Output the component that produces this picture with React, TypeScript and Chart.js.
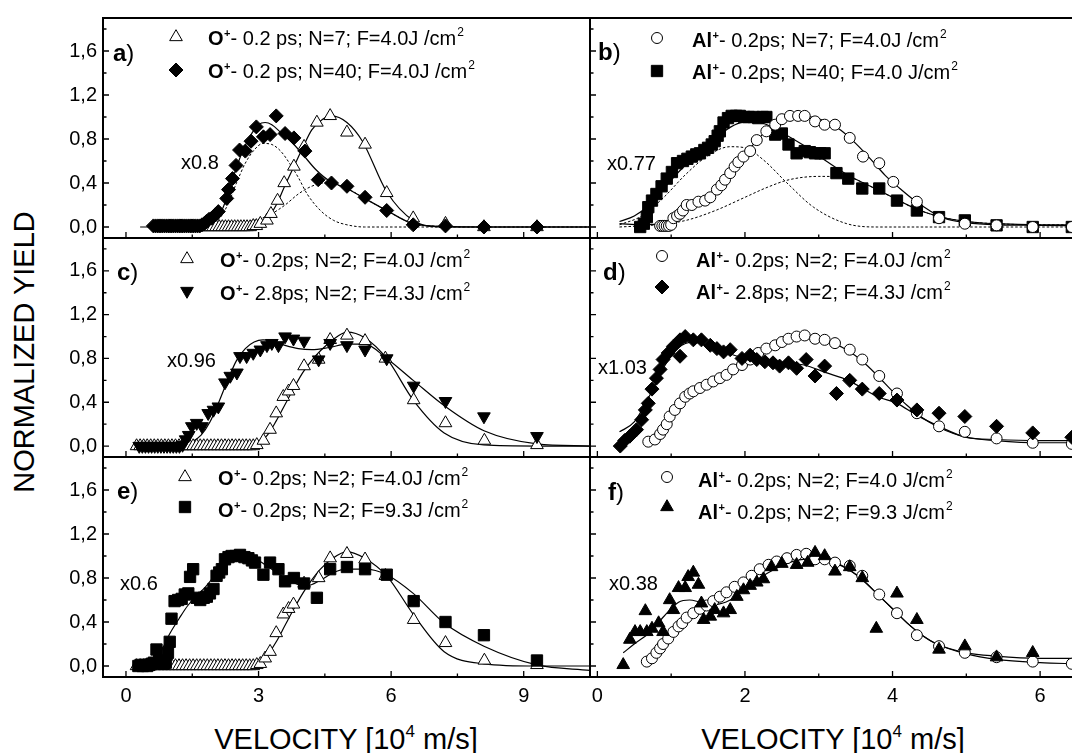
import React, { useEffect, useRef } from 'react';
import { Chart, registerables } from 'chart.js';
Chart.register(...registerables);

const FONT = '"Liberation Sans", Arial, Helvetica, sans-serif';

// ---------- axis ticks ----------
const leftXTicks = [0, 3, 6, 9];
const leftXMinor = [1.5, 4.5, 7.5];
const rightXTicks = [0, 2, 4, 6];
const rightXMinor = [1, 3, 5];
const yTicks = [0, 0.4, 0.8, 1.2, 1.6];
const yMinor = [0.2, 0.6, 1.0, 1.4, 1.8];

// ---------- panel a : O+ 0.2 ps, N=7 (open triangles) / N=40 (diamonds) ----------
const aTri = [
  [0.85, 0], [0.92, 0], [0.99, 0], [1.06, 0], [1.13, 0], [1.2, 0], [1.27, 0], [1.34, 0], [1.41, 0], [1.48, 0],
  [1.55, 0], [1.62, 0], [1.69, 0], [1.76, 0], [1.83, 0], [1.9, 0], [1.97, 0], [2.04, 0], [2.11, 0], [2.18, 0],
  [2.25, 0], [2.32, 0], [2.39, 0], [2.46, 0], [2.53, 0], [2.6, 0], [2.67, 0], [2.74, 0], [2.81, 0], [2.88, 0.01],
  [2.95, 0.01], [3.04, 0.03], [3.19, 0.06], [3.28, 0.12], [3.43, 0.24], [3.58, 0.4], [3.8, 0.55], [4.03, 0.73],
  [4.32, 0.95], [4.62, 1.01], [5.0, 0.86], [5.41, 0.75], [5.9, 0.31], [6.5, 0.08], [7.23, 0.03], [8.1, 0.0], [9.3, 0.0],
];
const aDia = [
  [0.62, 0.01], [0.67, 0.01], [0.72, 0.01], [0.77, 0.01], [0.82, 0.01], [0.87, 0.01], [0.92, 0.01], [0.97, 0.01],
  [1.02, 0.01], [1.07, 0.01], [1.12, 0.01], [1.17, 0.01], [1.22, 0.01], [1.27, 0.01], [1.32, 0.01], [1.37, 0.01],
  [1.42, 0.01], [1.47, 0.01], [1.52, 0.01], [1.57, 0.01], [1.62, 0.01], [1.67, 0.01], [1.72, 0.02], [1.77, 0.03],
  [1.82, 0.05], [1.88, 0.07], [1.94, 0.08], [2.02, 0.11], [2.09, 0.14], [2.28, 0.26], [2.32, 0.34], [2.41, 0.44],
  [2.49, 0.56], [2.57, 0.7], [2.7, 0.69], [2.83, 0.78], [2.95, 0.91], [3.11, 0.82], [3.26, 0.84], [3.4, 1.01],
  [3.6, 0.85], [3.8, 0.81], [4.05, 0.69], [4.35, 0.43], [4.65, 0.4], [5.0, 0.37], [5.41, 0.27], [5.9, 0.15],
  [6.5, 0.02], [7.23, 0.01], [8.1, 0.0], [9.3, 0.0],
];
const aTriLine = [
  [0.8, 0], [2.8, 0.01], [3.0, 0.03], [3.2, 0.08], [3.4, 0.2], [3.6, 0.38], [3.8, 0.55], [4.0, 0.72], [4.2, 0.88],
  [4.45, 0.98], [4.65, 1.01], [5.0, 0.95], [5.35, 0.78], [5.9, 0.32], [6.5, 0.06], [7.2, 0.0], [10.5, 0],
];
const aDiaLine = [
  [0.32, 0], [1.8, 0.01], [2.0, 0.05], [2.2, 0.18], [2.4, 0.42], [2.6, 0.65], [2.8, 0.82], [3.0, 0.93], [3.15, 0.95],
  [3.3, 0.93], [3.5, 0.86], [3.8, 0.75], [4.0, 0.66], [4.3, 0.52], [4.6, 0.42], [5.0, 0.35], [5.4, 0.26], [5.9, 0.15],
  [6.5, 0.03], [7.2, 0.005], [8.1, 0], [10.5, 0],
];
const aDot1 = [
  [1.6, 0], [1.9, 0.02], [2.1, 0.07], [2.3, 0.2], [2.5, 0.4], [2.7, 0.58], [2.9, 0.7], [3.1, 0.76], [3.3, 0.75],
  [3.5, 0.69], [3.7, 0.58], [3.9, 0.45], [4.1, 0.3], [4.4, 0.15], [4.7, 0.06], [5.0, 0.02], [5.4, 0.0], [10.5, 0],
];
const aDot2 = [
  [2.4, 0.02], [2.8, 0.05], [3.2, 0.1], [3.6, 0.2], [3.9, 0.3], [4.2, 0.37], [4.5, 0.4], [4.8, 0.38], [5.1, 0.33],
  [5.4, 0.26], [5.9, 0.15], [6.5, 0.03], [7.2, 0.005], [8.0, 0], [10.5, 0],
];

// ---------- panel b : Al+ 0.2 ps, N=7 (open circles) / N=40 (squares) ----------
const bCirc = [
  [0.85, 0.01], [0.88, 0.01], [0.91, 0.01], [0.94, 0.01], [0.97, 0.01], [1.0, 0.02], [1.03, 0.08], [1.08, 0.1],
  [1.12, 0.12], [1.16, 0.15], [1.21, 0.2], [1.28, 0.2], [1.37, 0.23], [1.46, 0.24], [1.53, 0.27], [1.62, 0.34],
  [1.68, 0.38], [1.73, 0.43], [1.8, 0.49], [1.86, 0.55], [1.91, 0.59], [1.98, 0.64], [2.07, 0.69], [2.16, 0.79],
  [2.29, 0.87], [2.41, 0.93], [2.5, 0.98], [2.61, 1.01], [2.72, 1.01], [2.81, 1.01], [2.95, 0.96], [3.08, 0.93],
  [3.22, 0.93], [3.42, 0.81], [3.6, 0.64], [3.82, 0.58], [4.01, 0.41], [4.33, 0.23], [4.63, 0.08], [4.98, 0.03],
  [5.41, 0.015], [5.9, 0.0], [6.43, 0.0],
];
const bSq = [
  [0.58, 0.0], [0.63, 0.03], [0.67, 0.09], [0.69, 0.18], [0.74, 0.24], [0.8, 0.3], [0.87, 0.37], [0.94, 0.44],
  [1.01, 0.5], [1.08, 0.58], [1.16, 0.6], [1.22, 0.62], [1.28, 0.64], [1.34, 0.66], [1.39, 0.67], [1.45, 0.7],
  [1.5, 0.72], [1.55, 0.75], [1.59, 0.78], [1.63, 0.83], [1.66, 0.87], [1.71, 0.95], [1.77, 0.99], [1.82, 1.01],
  [1.88, 1.01], [1.93, 1.01], [1.99, 1.0], [2.05, 1.0], [2.12, 1.0], [2.18, 0.99], [2.24, 1.0], [2.29, 1.0],
  [2.41, 0.84], [2.5, 0.85], [2.59, 0.75], [2.7, 0.67], [2.81, 0.69], [2.88, 0.68], [2.95, 0.67], [3.02, 0.67],
  [3.08, 0.67], [3.24, 0.49], [3.4, 0.44], [3.59, 0.35], [3.82, 0.35], [4.06, 0.24], [4.33, 0.15], [4.63, 0.09],
  [4.98, 0.06], [5.41, 0.015], [5.9, 0.0], [6.43, 0.0],
];
const bCircLine = [
  [0.3, 0.03], [0.6, 0.02], [0.9, 0.04], [1.1, 0.1], [1.3, 0.19], [1.5, 0.28], [1.7, 0.4], [1.9, 0.57], [2.1, 0.74],
  [2.3, 0.88], [2.5, 0.97], [2.7, 1.01], [2.9, 1.0], [3.1, 0.96], [3.3, 0.88], [3.5, 0.76], [3.7, 0.62], [3.9, 0.47],
  [4.1, 0.35], [4.3, 0.24], [4.5, 0.15], [4.7, 0.08], [5.0, 0.04], [5.4, 0.02], [6.0, 0.015], [6.5, 0.01],
];
const bSqLine = [
  [0.3, 0.05], [0.5, 0.1], [0.7, 0.2], [0.9, 0.35], [1.1, 0.5], [1.3, 0.63], [1.5, 0.74], [1.7, 0.86], [1.9, 0.94],
  [2.1, 0.96], [2.3, 0.93], [2.5, 0.86], [2.8, 0.74], [3.1, 0.6], [3.4, 0.47], [3.7, 0.37], [4.0, 0.27], [4.3, 0.17],
  [4.6, 0.1], [5.0, 0.05], [5.4, 0.03], [6.0, 0.02], [6.5, 0.02],
];
const bDot1 = [
  [0.3, 0.02], [0.6, 0.1], [0.9, 0.27], [1.2, 0.48], [1.5, 0.65], [1.8, 0.73], [2.0, 0.72], [2.25, 0.61],
  [2.57, 0.4], [2.93, 0.18], [3.38, 0.03], [3.8, 0.0], [6.5, 0.0],
];
const bDot2 = [
  [0.3, 0.0], [0.8, 0.02], [1.2, 0.06], [1.6, 0.15], [2.0, 0.27], [2.3, 0.36], [2.6, 0.43], [3.0, 0.46], [3.4, 0.45],
  [3.7, 0.37], [4.0, 0.27], [4.3, 0.17], [4.6, 0.1], [5.0, 0.05], [5.4, 0.03], [6.0, 0.02], [6.5, 0.02],
];

// ---------- panel c : O+ 0.2 ps (open triangles) / 2.8 ps (inverted triangles) ----------
const cTri = [
  [0.24, 0], [0.32, 0], [0.4, 0], [0.48, 0], [0.56, 0], [0.64, 0], [0.72, 0], [0.8, 0], [0.88, 0], [0.96, 0],
  [1.04, 0], [1.12, 0], [1.2, 0], [1.28, 0], [1.36, 0], [1.44, 0], [1.52, 0], [1.6, 0], [1.68, 0], [1.76, 0],
  [1.84, 0], [1.92, 0], [2.0, 0], [2.08, 0], [2.16, 0], [2.24, 0], [2.32, 0], [2.4, 0], [2.48, 0], [2.56, 0],
  [2.64, 0], [2.72, 0], [2.8, 0], [2.88, 0], [2.96, 0.01], [3.11, 0.05], [3.26, 0.15], [3.4, 0.3], [3.56, 0.45],
  [3.68, 0.5], [3.79, 0.55], [4.03, 0.73], [4.36, 0.79], [4.62, 0.97], [5.0, 1.01], [5.41, 0.96], [5.87, 0.8],
  [6.51, 0.42], [7.23, 0.21], [8.11, 0.05], [9.3, 0.01],
];
const cInv = [
  [0.3, 0], [0.37, 0], [0.44, 0], [0.51, 0], [0.58, 0], [0.65, 0], [0.72, 0], [0.79, 0], [0.86, 0], [0.93, 0],
  [1.0, 0], [1.07, 0], [1.14, 0], [1.21, 0], [1.28, 0.01], [1.35, 0.06], [1.42, 0.1], [1.49, 0.18], [1.6, 0.21],
  [1.72, 0.18], [1.86, 0.3], [1.98, 0.33], [2.09, 0.36], [2.24, 0.58], [2.36, 0.64], [2.51, 0.67], [2.58, 0.82],
  [2.73, 0.82], [2.88, 0.85], [3.04, 0.88], [3.19, 0.92], [3.3, 0.94], [3.45, 0.92], [3.6, 1.0], [3.79, 0.98],
  [4.03, 0.96], [4.36, 0.79], [4.62, 0.94], [5.0, 0.92], [5.41, 0.88], [5.9, 0.8], [6.51, 0.55], [7.23, 0.41],
  [8.1, 0.27], [9.3, 0.09],
];
const cTriLine = [
  [0.24, 0], [2.8, 0.01], [3.0, 0.03], [3.2, 0.1], [3.4, 0.23], [3.6, 0.38], [3.8, 0.53], [4.0, 0.67], [4.2, 0.78],
  [4.4, 0.87], [4.65, 0.96], [5.0, 1.04], [5.4, 0.99], [5.9, 0.8], [6.5, 0.42], [7.2, 0.12], [8.1, 0.01], [9.3, 0],
  [10.5, 0],
];
const cInvLine = [
  [0.3, 0], [1.3, 0.01], [1.5, 0.04], [1.7, 0.1], [1.9, 0.22], [2.1, 0.4], [2.3, 0.6], [2.5, 0.78], [2.7, 0.89],
  [2.9, 0.95], [3.1, 0.97], [3.3, 0.96], [3.6, 0.92], [3.9, 0.89], [4.2, 0.88], [4.6, 0.9], [5.0, 0.93], [5.4, 0.93],
  [5.9, 0.8], [6.5, 0.6], [7.23, 0.36], [8.1, 0.14], [9.3, 0.02], [10.5, 0],
];

// ---------- panel d : Al+ 0.2 ps (open circles) / 2.8 ps (diamonds) ----------
const dCirc = [
  [0.69, 0.04], [0.78, 0.06], [0.85, 0.11], [0.89, 0.15], [0.94, 0.2], [0.98, 0.27], [1.05, 0.33], [1.12, 0.39],
  [1.19, 0.45], [1.25, 0.48], [1.3, 0.5], [1.39, 0.53], [1.48, 0.56], [1.57, 0.59], [1.66, 0.62], [1.75, 0.65],
  [1.84, 0.7], [1.96, 0.74], [2.07, 0.79], [2.18, 0.85], [2.29, 0.89], [2.41, 0.92], [2.5, 0.95], [2.59, 0.98],
  [2.7, 1.0], [2.81, 1.01], [2.95, 0.98], [3.08, 0.97], [3.22, 0.94], [3.42, 0.88], [3.59, 0.79], [3.82, 0.64],
  [4.06, 0.48], [4.33, 0.3], [4.63, 0.18], [4.98, 0.13], [5.41, 0.07], [5.9, 0.03], [6.43, 0.02],
];
const dDia = [
  [0.31, 0.0], [0.37, 0.05], [0.44, 0.09], [0.53, 0.15], [0.6, 0.24], [0.65, 0.33], [0.69, 0.39], [0.74, 0.52],
  [0.8, 0.62], [0.85, 0.7], [0.89, 0.79], [0.96, 0.85], [1.03, 0.91], [1.12, 0.97], [1.12, 0.82], [1.19, 1.0],
  [1.3, 0.97], [1.41, 0.97], [1.53, 0.92], [1.62, 0.89], [1.71, 0.86], [1.8, 0.88], [1.96, 0.8], [2.07, 0.83],
  [2.16, 0.79], [2.27, 0.77], [2.38, 0.76], [2.47, 0.73], [2.59, 0.76], [2.7, 0.71], [2.83, 0.79], [2.95, 0.64],
  [3.08, 0.73], [3.24, 0.48], [3.42, 0.6], [3.59, 0.52], [3.82, 0.48], [4.06, 0.42], [4.33, 0.33], [4.63, 0.3],
  [4.98, 0.27], [5.41, 0.18], [5.9, 0.12], [6.43, 0.08],
];
const dCircLine = [
  [0.65, 0.03], [0.8, 0.08], [1.0, 0.25], [1.2, 0.43], [1.4, 0.53], [1.6, 0.6], [1.8, 0.67], [2.0, 0.76], [2.2, 0.85],
  [2.4, 0.92], [2.6, 0.98], [2.8, 1.01], [3.0, 0.99], [3.2, 0.94], [3.4, 0.87], [3.6, 0.77], [3.8, 0.64], [4.0, 0.5],
  [4.2, 0.37], [4.4, 0.26], [4.63, 0.17], [5.0, 0.08], [5.4, 0.05], [6.0, 0.03], [6.5, 0.03],
];
const dDiaLine = [
  [0.3, 0.13], [0.5, 0.22], [0.7, 0.45], [0.9, 0.72], [1.1, 0.9], [1.3, 0.95], [1.5, 0.92], [1.7, 0.87], [1.9, 0.82],
  [2.2, 0.79], [2.5, 0.76], [2.8, 0.74], [3.1, 0.67], [3.4, 0.6], [3.8, 0.45], [4.06, 0.39], [4.33, 0.28],
  [4.63, 0.18], [5.0, 0.08], [5.4, 0.06], [6.0, 0.05], [6.5, 0.05],
];

// ---------- panel e : O+ 4.0 J/cm2 (open triangles) / 9.3 J/cm2 (squares) ----------
const eTri = [
  [0.24, 0], [0.32, 0], [0.4, 0], [0.48, 0], [0.56, 0], [0.64, 0], [0.72, 0], [0.8, 0], [0.88, 0], [0.96, 0],
  [1.04, 0], [1.12, 0], [1.2, 0], [1.28, 0], [1.36, 0], [1.44, 0], [1.52, 0], [1.6, 0], [1.68, 0], [1.76, 0],
  [1.84, 0], [1.92, 0], [2.0, 0], [2.08, 0], [2.16, 0], [2.24, 0], [2.32, 0], [2.4, 0], [2.48, 0], [2.56, 0],
  [2.64, 0], [2.72, 0], [2.8, 0], [2.88, 0], [2.96, 0.01], [3.04, 0.02], [3.15, 0.07], [3.26, 0.13], [3.4, 0.3],
  [3.56, 0.47], [3.68, 0.52], [3.79, 0.56], [4.03, 0.75], [4.36, 0.8], [4.62, 0.98], [5.0, 1.02], [5.41, 0.97],
  [5.87, 0.82], [6.51, 0.42], [7.23, 0.21], [8.11, 0.05], [9.3, 0.01],
];
const eSq = [
  [0.28, 0.0], [0.33, 0.01], [0.38, 0.0], [0.43, 0.01], [0.48, 0.0], [0.53, 0.01], [0.58, 0.02], [0.63, 0.03],
  [0.69, 0.15], [0.75, 0.05], [0.8, 0.03], [0.85, 0.02], [0.9, 0.03], [0.95, 0.12], [0.99, 0.22], [1.03, 0.43],
  [1.1, 0.59], [1.18, 0.6], [1.26, 0.61], [1.33, 0.65], [1.41, 0.66], [1.45, 0.81], [1.52, 0.88], [1.6, 0.62],
  [1.68, 0.6], [1.76, 0.62], [1.83, 0.63], [1.9, 0.66], [1.98, 0.7], [2.05, 0.82], [2.11, 0.85], [2.17, 0.88],
  [2.24, 0.97], [2.32, 0.99], [2.39, 1.0], [2.48, 1.0], [2.58, 1.01], [2.68, 0.99], [2.77, 0.98], [2.85, 0.96],
  [2.92, 0.94], [3.11, 0.83], [3.26, 0.94], [3.45, 0.88], [3.6, 0.77], [3.8, 0.8], [4.03, 0.75], [4.32, 0.62],
  [4.62, 0.88], [5.0, 0.9], [5.41, 0.88], [5.9, 0.83], [6.51, 0.59], [7.23, 0.4], [8.1, 0.28], [9.3, 0.05],
];
const eTriLine = [
  [0.24, 0], [2.8, 0.01], [3.0, 0.04], [3.2, 0.1], [3.4, 0.22], [3.6, 0.37], [3.8, 0.52], [4.0, 0.66], [4.2, 0.78],
  [4.4, 0.88], [4.65, 0.97], [5.0, 1.04], [5.4, 0.98], [5.9, 0.82], [6.5, 0.47], [7.2, 0.13], [8.1, 0.02], [9.3, 0.0],
  [10.5, 0.0],
];
const eSqLine = [
  [0.3, 0.0], [0.6, 0.05], [0.8, 0.14], [1.0, 0.3], [1.2, 0.43], [1.4, 0.55], [1.6, 0.64], [1.8, 0.72], [2.0, 0.82],
  [2.2, 0.93], [2.4, 1.0], [2.6, 1.02], [2.8, 1.0], [3.0, 0.96], [3.3, 0.88], [3.6, 0.8], [3.9, 0.74], [4.1, 0.73],
  [4.4, 0.78], [4.7, 0.85], [5.0, 0.88], [5.4, 0.88], [5.9, 0.83], [6.5, 0.66], [7.2, 0.39], [8.1, 0.18], [9.3, 0.01],
  [10.5, -0.04],
];

// ---------- panel f : Al+ 4.0 J/cm2 (open circles) / 9.3 J/cm2 (filled triangles) ----------
const fCirc = [
  [0.67, 0.04], [0.74, 0.07], [0.8, 0.12], [0.85, 0.16], [0.89, 0.2], [0.96, 0.25], [1.03, 0.31], [1.1, 0.36],
  [1.15, 0.39], [1.21, 0.44], [1.3, 0.48], [1.39, 0.52], [1.48, 0.55], [1.57, 0.59], [1.66, 0.63], [1.75, 0.67],
  [1.86, 0.72], [1.98, 0.76], [2.09, 0.82], [2.2, 0.88], [2.32, 0.92], [2.43, 0.95], [2.57, 0.98], [2.7, 1.01],
  [2.83, 1.02], [2.95, 0.97], [3.08, 0.97], [3.22, 0.94], [3.42, 0.91], [3.59, 0.82], [3.82, 0.65], [4.06, 0.48],
  [4.33, 0.28], [4.63, 0.18], [4.98, 0.12], [5.41, 0.08], [5.9, 0.04], [6.43, 0.02],
];
const fTri = [
  [0.35, 0.01], [0.44, 0.24], [0.51, 0.31], [0.58, 0.31], [0.65, 0.5], [0.67, 0.31], [0.74, 0.34], [0.83, 0.39],
  [0.89, 0.31], [0.98, 0.6], [1.03, 0.51], [1.1, 0.71], [1.19, 0.71], [1.23, 0.81], [1.3, 0.85], [1.37, 0.74],
  [1.41, 0.57], [1.44, 0.42], [1.53, 0.45], [1.59, 0.51], [1.71, 0.48], [1.8, 0.51], [1.89, 0.63], [1.98, 0.69],
  [2.07, 0.73], [2.16, 0.76], [2.25, 0.79], [2.36, 0.9], [2.5, 0.93], [2.7, 0.92], [2.85, 0.94], [2.95, 1.03],
  [3.08, 1.0], [3.22, 0.86], [3.42, 0.9], [3.59, 0.8], [3.78, 0.34], [4.06, 0.66], [4.33, 0.42], [4.63, 0.15],
  [4.98, 0.18], [5.41, 0.08], [5.9, 0.12],
];
const fCircLine = [
  [0.65, 0.03], [0.8, 0.1], [1.0, 0.27], [1.2, 0.41], [1.4, 0.51], [1.6, 0.6], [1.8, 0.68], [2.0, 0.77], [2.2, 0.86],
  [2.4, 0.93], [2.6, 0.98], [2.8, 1.0], [3.0, 0.99], [3.2, 0.95], [3.4, 0.88], [3.6, 0.78], [3.8, 0.65], [4.0, 0.52],
  [4.2, 0.39], [4.4, 0.28], [4.6, 0.2], [5.0, 0.11], [5.4, 0.06], [6.0, 0.03], [6.5, 0.02],
];
const fTriLine = [
  [0.35, 0.12], [0.5, 0.2], [0.7, 0.3], [0.9, 0.45], [1.1, 0.58], [1.25, 0.6], [1.4, 0.58], [1.6, 0.56], [1.8, 0.6],
  [2.0, 0.7], [2.2, 0.8], [2.4, 0.88], [2.6, 0.94], [2.8, 0.97], [3.0, 0.97], [3.2, 0.94], [3.4, 0.88], [3.6, 0.78],
  [3.8, 0.65], [4.0, 0.52], [4.2, 0.39], [4.4, 0.28], [4.6, 0.2], [5.0, 0.12], [5.4, 0.09], [6.0, 0.07], [6.5, 0.07],
];

// ---------- texts ----------
const panelLabels = ['a', 'b', 'c', 'd', 'e', 'f'];
const factorLabels = ['x0.8', 'x0.77', 'x0.96', 'x1.03', 'x0.6', 'x0.38'];
const legendIons = [['O', 'O'], ['Al', 'Al'], ['O', 'O'], ['Al', 'Al'], ['O', 'O'], ['Al', 'Al']];
const legendTexts = [
  ['- 0.2 ps; N=7; F=4.0J /cm', '- 0.2 ps; N=40; F=4.0J /cm'],
  ['- 0.2ps; N=7; F=4.0J /cm', '- 0.2ps; N=40; F=4.0 J/cm'],
  ['- 0.2ps; N=2; F=4.0J /cm', '- 2.8ps; N=2; F=4.3J /cm'],
  ['- 0.2ps; N=2; F=4.0J /cm', '- 2.8ps; N=2; F=4.3J /cm'],
  ['- 0.2ps; N=2; F=4.0J /cm', '- 0.2ps; N=2; F=9.3J /cm'],
  ['- 0.2ps; N=2; F=4.0 J/cm', '- 0.2ps; N=2; F=9.3 J/cm'],
];

// ---------- styles ----------
type MStyle = { pointStyle: string; radius: number; fill: string; rotation: number };
const ST: Record<string, MStyle> = {
  openTri: { pointStyle: 'triangle', radius: 7.3, fill: '#ffffff', rotation: 0 },
  invTri: { pointStyle: 'triangle', radius: 7.3, fill: '#000000', rotation: 180 },
  diamond: { pointStyle: 'rectRot', radius: 7, fill: '#000000', rotation: 0 },
  square: { pointStyle: 'rect', radius: 8, fill: '#000000', rotation: 0 },
  openCircle: { pointStyle: 'circle', radius: 5.5, fill: '#ffffff', rotation: 0 },
  filledTri: { pointStyle: 'triangle', radius: 7.3, fill: '#000000', rotation: 0 },
};

const YW = 60, XH = 40, PT = 4, PR = 6;
const COLS = [
  { l: 103, r: 590, min: -0.52, max: 10.5, ticks: leftXTicks, minor: leftXMinor },
  { l: 590, r: 1077, min: -0.1, max: 6.5, ticks: rightXTicks, minor: rightXMinor },
];
const ROWS = [{ t: 18, b: 238 }, { t: 238, b: 457 }, { t: 457, b: 677 }];

type PanelDef = {
  idx: number; col: number; row: number;
  markers: { data: number[][]; st: string }[];
  lines: { data: number[][]; dash?: boolean }[];
  legendSt: string[];
  labelPos: number[]; factorPos: number[]; legMarkX: number; legMarkY: number[]; legTextX: number; legTextY: number[];
};

const PANELS: PanelDef[] = [
  {
    idx: 0, col: 0, row: 0,
    markers: [{ data: aDia, st: 'diamond' }, { data: aTri, st: 'openTri' }],
    lines: [{ data: aTriLine }, { data: aDiaLine }, { data: aDot1, dash: true }, { data: aDot2, dash: true }],
    legendSt: ['openTri', 'diamond'],
    labelPos: [113, 52], factorPos: [181, 162], legMarkX: 176, legMarkY: [37, 70], legTextX: 208, legTextY: [38, 71],
  },
  {
    idx: 1, col: 1, row: 0,
    markers: [{ data: bCirc, st: 'openCircle' }, { data: bSq, st: 'square' }],
    lines: [{ data: bCircLine }, { data: bSqLine }, { data: bDot1, dash: true }, { data: bDot2, dash: true }],
    legendSt: ['openCircle', 'square'],
    labelPos: [598, 51], factorPos: [607, 163], legMarkX: 657, legMarkY: [38, 71], legTextX: 692, legTextY: [40, 72],
  },
  {
    idx: 2, col: 0, row: 1,
    markers: [{ data: cInv, st: 'invTri' }, { data: cTri, st: 'openTri' }],
    lines: [{ data: cTriLine }, { data: cInvLine }],
    legendSt: ['openTri', 'invTri'],
    labelPos: [117, 271], factorPos: [167, 360], legMarkX: 187, legMarkY: [259, 291], legTextX: 220, legTextY: [260, 293],
  },
  {
    idx: 3, col: 1, row: 1,
    markers: [{ data: dDia, st: 'diamond' }, { data: dCirc, st: 'openCircle' }],
    lines: [{ data: dCircLine }, { data: dDiaLine }],
    legendSt: ['openCircle', 'diamond'],
    labelPos: [603, 271], factorPos: [598, 367], legMarkX: 662, legMarkY: [256, 287], legTextX: 696, legTextY: [260, 292],
  },
  {
    idx: 4, col: 0, row: 2,
    markers: [{ data: eSq, st: 'square' }, { data: eTri, st: 'openTri' }],
    lines: [{ data: eTriLine }, { data: eSqLine }],
    legendSt: ['openTri', 'square'],
    labelPos: [117, 490], factorPos: [120, 583], legMarkX: 185, legMarkY: [477, 507], legTextX: 218, legTextY: [478, 510],
  },
  {
    idx: 5, col: 1, row: 2,
    markers: [{ data: fTri, st: 'filledTri' }, { data: fCirc, st: 'openCircle' }],
    lines: [{ data: fCircLine }, { data: fTriLine }],
    legendSt: ['openCircle', 'filledTri'],
    labelPos: [608, 491], factorPos: [609, 583], legMarkX: 667, legMarkY: [477, 507], legTextX: 698, legTextY: [480, 512],
  },
];

function drawMarker(ctx: CanvasRenderingContext2D, st: MStyle, x: number, y: number) {
  const r = st.radius;
  ctx.beginPath();
  if (st.pointStyle === 'circle') {
    ctx.arc(x, y, r, 0, Math.PI * 2);
  } else if (st.pointStyle === 'triangle') {
    let rad = (st.rotation * Math.PI) / 180;
    for (let i = 0; i < 3; i++) {
      const px = x + Math.sin(rad) * r;
      const py = y - Math.cos(rad) * r;
      if (i === 0) ctx.moveTo(px, py); else ctx.lineTo(px, py);
      rad += (2 * Math.PI) / 3;
    }
    ctx.closePath();
  } else if (st.pointStyle === 'rectRot') {
    ctx.moveTo(x - r, y); ctx.lineTo(x, y - r); ctx.lineTo(x + r, y); ctx.lineTo(x, y + r); ctx.closePath();
  } else {
    const s = r * Math.SQRT1_2;
    ctx.rect(x - s, y - s, 2 * s, 2 * s);
  }
  ctx.fillStyle = st.fill;
  ctx.fill();
  ctx.strokeStyle = '#000';
  ctx.lineWidth = 1;
  ctx.stroke();
}

function makeDeco(p: PanelDef, ox: number, oy: number) {
  return {
    id: 'deco' + p.idx,
    afterDraw(chart: any) {
      const { ctx, chartArea: a, scales } = chart;
      const xs = scales.x, ys = scales.y;
      const col = COLS[p.col];
      ctx.save();
      ctx.strokeStyle = '#000';
      ctx.lineWidth = 2;
      ctx.strokeRect(a.left, a.top, a.right - a.left, a.bottom - a.top);
      ctx.lineWidth = 1.3;
      ctx.beginPath();
      col.ticks.forEach((v) => { const px = xs.getPixelForValue(v); ctx.moveTo(px, a.bottom); ctx.lineTo(px, a.bottom - 6); });
      col.minor.forEach((v) => { const px = xs.getPixelForValue(v); ctx.moveTo(px, a.bottom); ctx.lineTo(px, a.bottom - 3.5); });
      yTicks.forEach((v) => { const py = ys.getPixelForValue(v); ctx.moveTo(a.left, py); ctx.lineTo(a.left + 6, py); });
      yMinor.forEach((v) => { const py = ys.getPixelForValue(v); ctx.moveTo(a.left, py); ctx.lineTo(a.left + 3.5, py); });
      ctx.stroke();

      ctx.fillStyle = '#000';
      ctx.textAlign = 'left';
      ctx.textBaseline = 'alphabetic';
      const [lx, ly] = p.labelPos;
      ctx.font = `bold 24px ${FONT}`;
      const lab = panelLabels[p.idx];
      ctx.fillText(lab, lx - ox, ly - oy + 8.6);
      const lw = ctx.measureText(lab).width;
      ctx.font = `24px ${FONT}`;
      ctx.fillText(')', lx - ox + lw, ly - oy + 8.6);
      ctx.font = `20px ${FONT}`;
      ctx.fillText(factorLabels[p.idx], p.factorPos[0] - ox, p.factorPos[1] - oy + 7.2);
      for (let i = 0; i < 2; i++) {
        drawMarker(ctx, ST[p.legendSt[i]], p.legMarkX - ox, p.legMarkY[i] - oy);
        let x = p.legTextX - ox;
        const base = p.legTextY[i] - oy + 7.2;
        ctx.fillStyle = '#000';
        ctx.font = `bold 20px ${FONT}`;
        const ion = legendIons[p.idx][i];
        ctx.fillText(ion, x, base);
        x += ctx.measureText(ion).width;
        ctx.font = `bold 11px ${FONT}`;
        ctx.fillText('+', x + 0.5, base - 8.5);
        x += ctx.measureText('+').width + 0.5;
        ctx.font = `20px ${FONT}`;
        const txt = legendTexts[p.idx][i];
        ctx.fillText(txt, x, base);
        x += ctx.measureText(txt).width;
        ctx.font = `12px ${FONT}`;
        ctx.fillText('2', x + 1, base - 9.5);
      }
      ctx.restore();
    },
  };
}

function zeroPad(s: any) {
  s.paddingTop = 0; s.paddingBottom = 0; s.paddingLeft = 0; s.paddingRight = 0;
}

function buildConfig(p: PanelDef, ox: number, oy: number): any {
  const col = COLS[p.col];
  const datasets: any[] = [];
  p.markers.forEach((m) => {
    const st = ST[m.st];
    datasets.push({
      data: m.data.map(([x, y]) => ({ x, y })),
      showLine: false,
      pointStyle: st.pointStyle,
      pointRadius: st.radius,
      pointRotation: st.rotation,
      pointBackgroundColor: st.fill,
      pointBorderColor: '#000',
      pointBorderWidth: 1,
      pointHoverRadius: st.radius,
    });
  });
  p.lines.forEach((l) => {
    datasets.push({
      data: l.data.map(([x, y]) => ({ x, y })),
      showLine: true,
      pointRadius: 0,
      pointHoverRadius: 0,
      borderColor: '#000',
      borderWidth: l.dash ? 1 : 1.2,
      borderDash: l.dash ? [2.5, 2] : [],
      cubicInterpolationMode: 'monotone',
      fill: false,
    });
  });
  const showX = p.row === 2;
  const showY = p.col === 0;
  return {
    type: 'scatter',
    data: { datasets },
    options: {
      responsive: false,
      maintainAspectRatio: false,
      animation: false,
      devicePixelRatio: 1,
      events: [],
      layout: { padding: { top: PT, right: PR, left: 0, bottom: 0 }, autoPadding: false },
      plugins: { legend: { display: false }, tooltip: { enabled: false }, title: { display: false } },
      scales: {
        x: {
          type: 'linear', position: 'bottom', min: col.min, max: col.max,
          grid: { display: false, drawTicks: false }, border: { display: false },
          ticks: {
            display: showX, padding: 7, color: '#000', font: { family: FONT, size: 20 },
            maxRotation: 0, autoSkip: false, callback: (v: any) => String(v),
          },
          afterBuildTicks: (s: any) => { s.ticks = col.ticks.map((v) => ({ value: v })); },
          afterFit: (s: any) => { s.height = XH; zeroPad(s); },
        },
        y: {
          type: 'linear', position: 'left', min: -0.1, max: 1.9,
          grid: { display: false, drawTicks: false }, border: { display: false },
          ticks: {
            display: showY, padding: 6, color: '#000', font: { family: FONT, size: 20 },
            autoSkip: false, callback: (v: any) => Number(v).toFixed(1).replace('.', ','),
          },
          afterBuildTicks: (s: any) => { s.ticks = yTicks.map((v) => ({ value: v })); },
          afterFit: (s: any) => { s.width = YW; zeroPad(s); },
        },
      },
    },
    plugins: [makeDeco(p, ox, oy)],
  };
}

function PanelChart({ p }: { p: PanelDef }) {
  const ref = useRef<HTMLCanvasElement>(null);
  const col = COLS[p.col];
  const row = ROWS[p.row];
  const cx = col.l - YW;
  const cy = row.t - PT;
  const cw = col.r - col.l + YW + PR;
  const ch = row.b - row.t + PT + XH;
  useEffect(() => {
    const chart = new Chart(ref.current as HTMLCanvasElement, buildConfig(p, cx, cy));
    return () => chart.destroy();
  }, []);
  return (
    <canvas
      ref={ref}
      width={cw}
      height={ch}
      style={{ position: 'absolute', left: cx, top: cy, width: cw, height: ch }}
    />
  );
}

const titleStyle: React.CSSProperties = {
  position: 'absolute',
  fontFamily: FONT,
  fontSize: 29,
  color: '#000',
  whiteSpace: 'nowrap',
  lineHeight: '32px',
};

function XTitle({ cx }: { cx: number }) {
  return (
    <div style={{ ...titleStyle, left: cx, top: 739 - 16, transform: 'translateX(-50%)' }}>
      VELOCITY [10<span style={{ fontSize: 17, position: 'relative', top: -12 }}>4</span> m/s]
    </div>
  );
}

export default function App() {
  return (
    <div
      style={{
        position: 'fixed', left: 0, top: 0, width: 1072, height: 753,
        overflow: 'hidden', background: '#fff',
      }}
    >
      {PANELS.map((p) => (
        <PanelChart key={p.idx} p={p} />
      ))}
      <XTitle cx={346} />
      <XTitle cx={833} />
      <div
        style={{
          ...titleStyle,
          left: 24, top: 352,
          transform: 'translate(-50%, -50%) rotate(-90deg)',
        }}
      >
        NORMALIZED YIELD
      </div>
    </div>
  );
}
